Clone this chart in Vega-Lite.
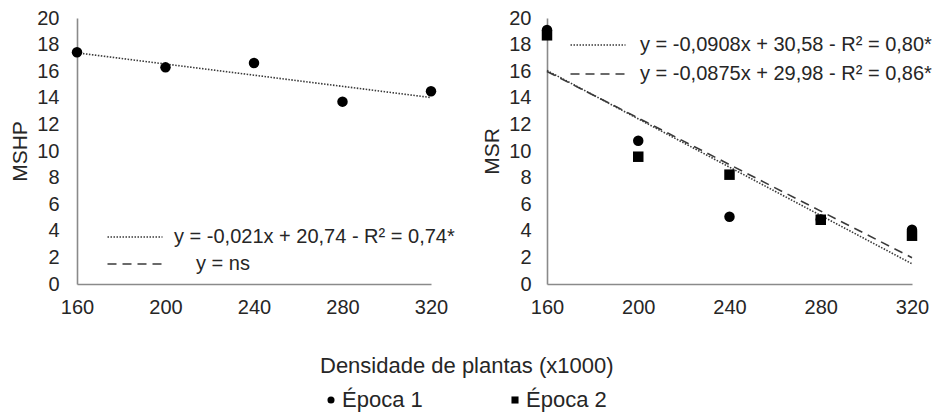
{
  "$schema": "https://vega.github.io/schema/vega-lite/v6.json",
  "background": "white",
  "padding": {"left": 9, "top": 8, "right": 10, "bottom": 3},
  "config": {
    "font": "Liberation Sans",
    "view": {"stroke": null},
    "axis": {"grid": false, "ticks": false, "labelOverlap": false, "labelFlush": false, "domainColor": "#8a8a8a", "domainWidth": 1.6, "labelFont": "Liberation Sans", "labelFontSize": 20, "labelColor": "#262626", "titleFont": "Liberation Sans", "titleFontSize": 21, "titleFontWeight": "normal", "titleColor": "#262626"},
    "axisY": {"labelOverlap": false},
    "legend": {"labelFont": "Liberation Sans", "labelFontSize": 20, "labelColor": "#262626", "labelLimit": 0, "titleLimit": 0, "titleFont": "Liberation Sans"}
  },
  "datasets": {
    "pontos": [
      {"painel": "a", "densidade": 160, "valor": 17.42, "epoca": "Época 1"},
      {"painel": "a", "densidade": 200, "valor": 16.29, "epoca": "Época 1"},
      {"painel": "a", "densidade": 240, "valor": 16.62, "epoca": "Época 1"},
      {"painel": "a", "densidade": 280, "valor": 13.71, "epoca": "Época 1"},
      {"painel": "a", "densidade": 320, "valor": 14.49, "epoca": "Época 1"},
      {"painel": "b", "densidade": 160, "valor": 19.1, "epoca": "Época 1"},
      {"painel": "b", "densidade": 200, "valor": 10.77, "epoca": "Época 1"},
      {"painel": "b", "densidade": 240, "valor": 5.06, "epoca": "Época 1"},
      {"painel": "b", "densidade": 280, "valor": 4.85, "epoca": "Época 1"},
      {"painel": "b", "densidade": 320, "valor": 4.08, "epoca": "Época 1"},
      {"painel": "b", "densidade": 160, "valor": 18.7, "epoca": "Época 2"},
      {"painel": "b", "densidade": 200, "valor": 9.57, "epoca": "Época 2"},
      {"painel": "b", "densidade": 240, "valor": 8.22, "epoca": "Época 2"},
      {"painel": "b", "densidade": 280, "valor": 4.83, "epoca": "Época 2"},
      {"painel": "b", "densidade": 320, "valor": 3.63, "epoca": "Época 2"}
    ],
    "tendencias": [
      {"painel": "a", "densidade": 160, "valor": 17.38, "equacao": "y = -0,021x + 20,74 - R² = 0,74*"},
      {"painel": "a", "densidade": 320, "valor": 14.02, "equacao": "y = -0,021x + 20,74 - R² = 0,74*"},
      {"painel": "b", "densidade": 160, "valor": 16.05, "equacao": "y = -0,0908x + 30,58 - R² = 0,80*"},
      {"painel": "b", "densidade": 320, "valor": 1.52, "equacao": "y = -0,0908x + 30,58 - R² = 0,80*"},
      {"painel": "b", "densidade": 160, "valor": 15.98, "equacao": "y = -0,0875x + 29,98 - R² = 0,86*"},
      {"painel": "b", "densidade": 320, "valor": 1.98, "equacao": "y = -0,0875x + 29,98 - R² = 0,86*"}
    ],
    "rotulos": [
      {"painel": "a", "rotulo": "(a)"},
      {"painel": "b", "rotulo": "(b)"}
    ]
  },
  "spacing": 26,
  "resolve": {
    "scale": {"y": "independent", "strokeDash": "independent"},
    "legend": {"strokeDash": "independent", "shape": "shared"}
  },
  "hconcat": [
    {
      "width": 354,
      "height": 266,
      "encoding": {
        "x": {"field": "densidade", "type": "quantitative", "scale": {"domain": [160, 320], "nice": false, "zero": false}, "axis": {"title": null, "values": [160, 200, 240, 280, 320], "labelPadding": 13, "labelOverlap": false}},
        "y": {"field": "valor", "type": "quantitative", "scale": {"domain": [0, 20], "nice": false}, "axis": {"title": "MSHP", "values": [0, 2, 4, 6, 8, 10, 12, 14, 16, 18, 20], "labelPadding": 18, "titlePadding": 6, "labelOverlap": false}}
      },
      "layer": [
        {
          "data": {"name": "tendencias"},
          "transform": [{"filter": "datum.painel == 'a'"}],
          "mark": {"type": "line", "color": "#3a3a3a", "strokeWidth": 1.6},
          "encoding": {
            "strokeDash": {
              "field": "equacao", "type": "nominal",
              "scale": {"domain": ["y = -0,021x + 20,74 - R² = 0,74*", "y = ns"], "range": [[1.5, 1.5], [9, 6]]},
              "legend": {"title": null, "orient": "none", "legendX": 48, "legendY": 209, "direction": "vertical", "symbolType": "M-5,0H5", "symbolSize": 121, "symbolStrokeWidth": 1.6, "symbolStrokeColor": "#3a3a3a", "labelOffset": 29, "rowPadding": 7,
                "encode": {"labels": {"update": {"dx": {"signal": "datum.label == 'y = ns' ? 22 : 0"}}}}}
            }
          }
        },
        {
          "data": {"name": "pontos"},
          "transform": [{"filter": "datum.painel == 'a'"}],
          "mark": {"type": "point", "filled": true, "color": "black", "opacity": 1, "size": 110},
          "encoding": {
            "shape": {
              "field": "epoca", "type": "nominal",
              "scale": {"domain": ["Época 1", "Época 2"], "range": ["circle", "square"]},
              "legend": {"title": "Densidade de plantas (x1000)", "orient": "none", "legendX": 243, "legendY": 338, "direction": "horizontal", "titleOrient": "top", "titleAnchor": "start", "titleFontSize": 22, "titleFontWeight": "normal", "titleColor": "#262626", "titlePadding": 11, "labelFontSize": 22, "labelOffset": 0, "symbolSize": 50, "columnPadding": 81}
            }
          }
        },
        {
          "data": {"name": "rotulos"},
          "transform": [{"filter": "datum.painel == 'a'"}],
          "mark": {"type": "text", "align": "right", "baseline": "middle", "dx": 14, "fontSize": 20, "color": "#262626"},
          "encoding": {
            "x": {"datum": 320, "type": "quantitative"},
            "y": {"datum": 20, "type": "quantitative"},
            "text": {"field": "rotulo", "type": "nominal"}
          }
        }
      ]
    },
    {
      "width": 365,
      "height": 266,
      "encoding": {
        "x": {"field": "densidade", "type": "quantitative", "scale": {"domain": [160, 320], "nice": false, "zero": false}, "axis": {"title": null, "values": [160, 200, 240, 280, 320], "labelPadding": 13, "labelOverlap": false}},
        "y": {"field": "valor", "type": "quantitative", "scale": {"domain": [0, 20], "nice": false}, "axis": {"title": "MSR", "values": [0, 2, 4, 6, 8, 10, 12, 14, 16, 18, 20], "labelPadding": 16, "titlePadding": 6, "labelOverlap": false}}
      },
      "layer": [
        {
          "data": {"name": "tendencias"},
          "transform": [{"filter": "datum.painel == 'b'"}],
          "mark": {"type": "line", "color": "#3a3a3a", "strokeWidth": 1.6},
          "encoding": {
            "strokeDash": {
              "field": "equacao", "type": "nominal",
              "scale": {"domain": ["y = -0,0908x + 30,58 - R² = 0,80*", "y = -0,0875x + 29,98 - R² = 0,86*"], "range": [[1.5, 1.5], [9, 6]]},
              "legend": {"title": null, "orient": "none", "legendX": 41, "legendY": 17, "direction": "vertical", "symbolType": "M-5,0H5", "symbolSize": 121, "symbolStrokeWidth": 1.6, "symbolStrokeColor": "#3a3a3a", "labelOffset": 32, "rowPadding": 9}
            }
          }
        },
        {
          "data": {"name": "pontos"},
          "transform": [{"filter": "datum.painel == 'b'"}],
          "mark": {"type": "point", "filled": true, "color": "black", "opacity": 1, "size": 110},
          "encoding": {
            "shape": {
              "field": "epoca", "type": "nominal",
              "scale": {"domain": ["Época 1", "Época 2"], "range": ["circle", "square"]},
              "legend": {"title": "Densidade de plantas (x1000)", "orient": "none", "legendX": 243, "legendY": 338, "direction": "horizontal", "titleOrient": "top", "titleAnchor": "start", "titleFontSize": 22, "titleFontWeight": "normal", "titleColor": "#262626", "titlePadding": 11, "labelFontSize": 22, "labelOffset": 0, "symbolSize": 50, "columnPadding": 81}
            }
          }
        },
        {
          "data": {"name": "rotulos"},
          "transform": [{"filter": "datum.painel == 'b'"}],
          "mark": {"type": "text", "align": "right", "baseline": "middle", "dx": 16, "fontSize": 20, "color": "#262626"},
          "encoding": {
            "x": {"datum": 320, "type": "quantitative"},
            "y": {"datum": 20, "type": "quantitative"},
            "text": {"field": "rotulo", "type": "nominal"}
          }
        }
      ]
    }
  ]
}
